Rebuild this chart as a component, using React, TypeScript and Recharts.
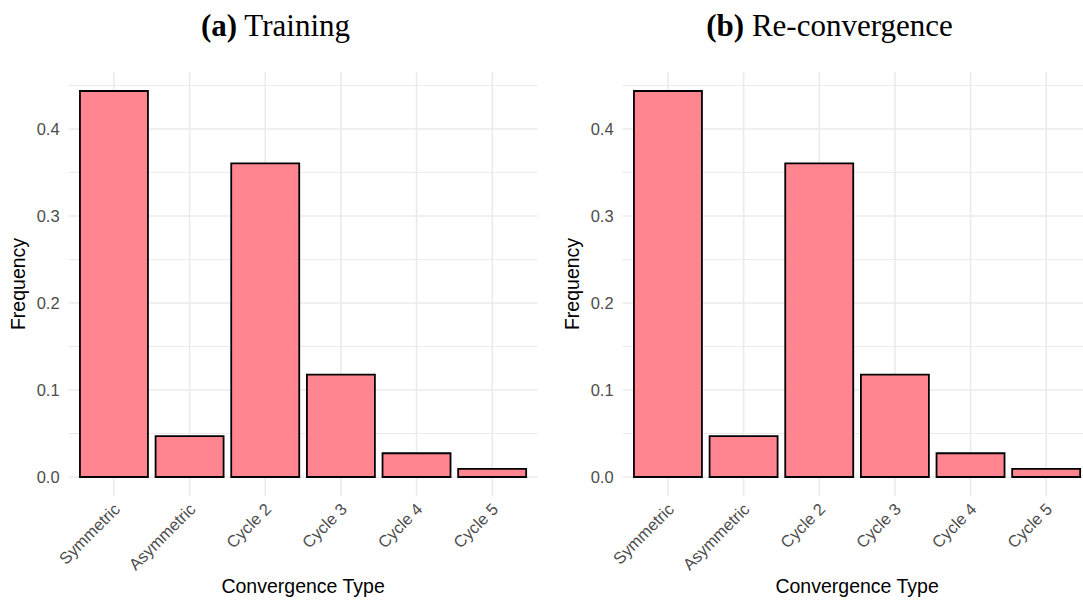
import { BarChart, Bar, XAxis, YAxis, CartesianGrid } from 'recharts';

const categories = ['Symmetric', 'Asymmetric', 'Cycle 2', 'Cycle 3', 'Cycle 4', 'Cycle 5'];
const trainingFreq = [0.4437, 0.047, 0.3605, 0.1176, 0.0273, 0.0094];
const reconvergenceFreq = [0.4437, 0.047, 0.3605, 0.1176, 0.0273, 0.0094];
const yTicks = [0, 0.05, 0.1, 0.15, 0.2, 0.25, 0.3, 0.35, 0.4, 0.45];
const majorTicks = [0, 0.1, 0.2, 0.3, 0.4];

const SANS = '"Liberation Sans", Arial, sans-serif';
const BAR_FILL = '#FF8690';
const GRID = '#EBEBEB';

// ggplot-ish geometry
const W = 551;
const H = 601;
const PLOT_LEFT = 68.6;
const PLOT_RIGHT = 537.6;
const PLOT_TOP = 71.7;
const PLOT_BOTTOM = 496.3;
const BAND = (PLOT_RIGHT - PLOT_LEFT) / 6.2;

const XTick = (props: any) => {
  const { x, y, payload } = props;
  return (
    <g transform={`translate(${x + 7},${y + 14}) rotate(-45)`}>
      <text x={0} y={0} textAnchor="end" fill="#4D4D4D" fontSize={16.5} fontFamily={SANS}>
        {payload.value}
      </text>
    </g>
  );
};

const YTick = (props: any) => {
  const { x, y, payload } = props;
  if (!majorTicks.some((t) => Math.abs(t - payload.value) < 1e-9)) return <g />;
  return (
    <text x={x} y={y} dy="0.36em" textAnchor="end" fill="#4D4D4D" fontSize={16.5} fontFamily={SANS}>
      {payload.value.toFixed(1)}
    </text>
  );
};

// no panel frame in theme_minimal: drop lines sitting on the plot edges
const HLine = (props: any) => {
  const { x1, y1, x2, y2, index } = props;
  if (Math.abs(y1 - PLOT_TOP) < 1 || Math.abs(y1 - PLOT_BOTTOM) < 1) return <g key={props.key} />;
  const minor = index !== undefined && index % 2 === 1;
  return <line key={props.key} x1={x1} y1={y1} x2={x2} y2={y2} stroke={GRID} strokeWidth={minor ? 1.1 : 1.6} />;
};

const VLine = (props: any) => {
  const { x1, y1, x2, y2 } = props;
  if (Math.abs(x1 - PLOT_LEFT) < 1 || Math.abs(x1 - PLOT_RIGHT) < 1) return <g key={props.key} />;
  return <line key={props.key} x1={x1} y1={y1} x2={x2} y2={y2} stroke={GRID} strokeWidth={1.6} />;
};

function Panel({ tag, title, values, left }: { tag: string; title: string; values: number[]; left: number }) {
  const data = categories.map((c, i) => ({ type: c, value: values[i] }));
  return (
    <div style={{ position: 'absolute', left, top: 0, width: W, height: H }}>
      <BarChart
        width={W}
        height={H}
        data={data}
        barCategoryGap="5%"
        margin={{ top: PLOT_TOP, right: W - PLOT_RIGHT, bottom: 0, left: 0 }}
      >
        <CartesianGrid horizontal={HLine} vertical={VLine} />
        <XAxis
          dataKey="type"
          type="category"
          interval={0}
          height={H - PLOT_BOTTOM}
          padding={{ left: BAND * 0.1, right: BAND * 0.1 }}
          axisLine={false}
          tickLine={false}
          tickSize={0}
          tickMargin={0}
          tick={XTick}
          label={{
            value: 'Convergence Type',
            position: 'insideBottom',
            offset: 8,
            fill: '#000',
            fontSize: 19.5,
            fontFamily: SANS,
          }}
        />
        <YAxis
          type="number"
          width={PLOT_LEFT}
          domain={[-0.0222, 0.4659]}
          allowDataOverflow
          ticks={yTicks}
          interval={0}
          axisLine={false}
          tickLine={false}
          tickSize={0}
          tickMargin={9}
          tick={YTick}
          label={(p: any) => {
            const vb = p.viewBox || {};
            const cy = vb.height ? vb.y + vb.height / 2 : (PLOT_TOP + PLOT_BOTTOM) / 2;
            return (
              <text
                transform={`translate(25.3,${cy}) rotate(-90)`}
                textAnchor="middle"
                fill="#000"
                fontSize={19.5}
                fontFamily={SANS}
              >
                Frequency
              </text>
            );
          }}
        />
        <Bar dataKey="value" fill={BAR_FILL} stroke="#000" strokeWidth={1.8} isAnimationActive={false} />
      </BarChart>
      <svg width={W} height={60} style={{ position: 'absolute', left: 0, top: 0 }}>
        <text
          x={W / 2}
          y={36.3}
          textAnchor="middle"
          fontSize={31}
          fill="#000"
          fontFamily='"Liberation Serif", "Times New Roman", serif'
        >
          <tspan fontWeight="bold">({tag})</tspan> {title}
        </text>
      </svg>
    </div>
  );
}

export default function App() {
  return (
    <div
      style={{
        position: 'absolute',
        left: 0,
        top: 0,
        width: 1083,
        height: 601,
        overflow: 'hidden',
        background: '#fff',
      }}
    >
      <Panel tag="a" title="Training" values={trainingFreq} left={0} />
      <Panel tag="b" title="Re-convergence" values={reconvergenceFreq} left={553.5} />
    </div>
  );
}
